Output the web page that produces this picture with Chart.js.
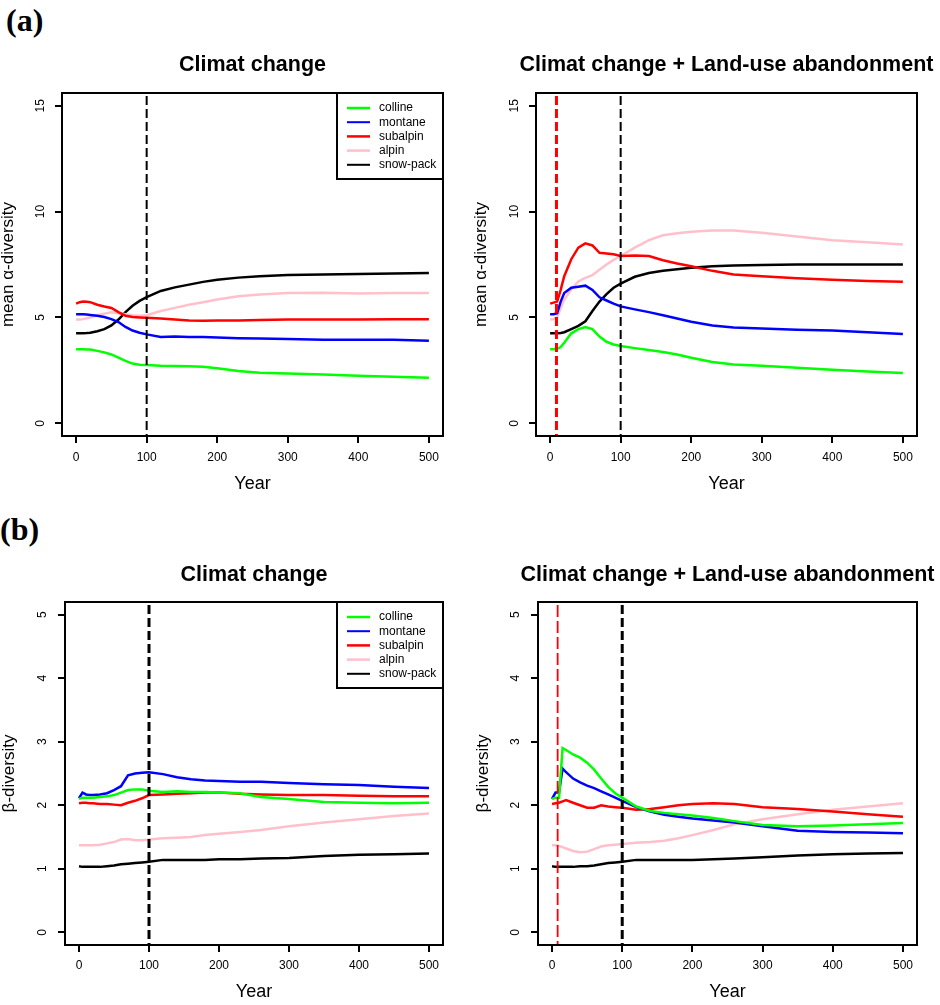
<!DOCTYPE html>
<html>
<head>
<meta charset="utf-8">
<script src="https://cdn.jsdelivr.net/npm/chart.js@4.4.1/dist/chart.umd.min.js"></script>
<style>
  body { margin: 0; background: #fff; width: 940px; height: 1005px; position: relative; overflow: hidden; }
  canvas { position: absolute; }
  .tag { position: absolute; font-family: "Liberation Serif", "Times New Roman", serif; font-weight: bold; font-size: 32px; line-height: 1; }
</style>
</head>
<body>
<div class="tag" style="left:6px;top:4px">(a)</div>
<div class="tag" style="left:0px;top:513px">(b)</div>
<canvas id="alphaCC" width="470" height="500" style="left:0;top:0"></canvas>
<canvas id="alphaLU" width="470" height="500" style="left:470px;top:0"></canvas>
<canvas id="betaCC" width="470" height="505" style="left:0;top:500px"></canvas>
<canvas id="betaLU" width="470" height="505" style="left:470px;top:500px"></canvas>
<script>
Chart.defaults.font.family = '"Liberation Sans", Arial, Helvetica, sans-serif';
Chart.defaults.color = "#000";

// shared bits
const years = [0, 5, 10, 15, 20, 30, 40, 50, 60, 70, 80, 90, 100, 120, 140, 160, 180, 200, 230, 260, 300, 350, 400, 450, 500];
const zoneNames = ["colline", "montane", "subalpin", "alpin", "snow-pack"];
const zoneColors = ["#00ff00", "#0000ff", "#ff0000", "#ffc0cb", "#000000"];
const xTicks = [0, 100, 200, 300, 400, 500];
const alphaTicks = [0, 5, 10, 15];
const betaTicks = [0, 1, 2, 3, 4, 5];

// years of the vertical dashed lines
const climateStop = [100];
const abandonAlpha = [9];
const abandonBeta = [8];

// (a) mean alpha-diversity, climat change
const alphaCC_colline = [3.5, 3.5, 3.5, 3.49, 3.48, 3.42, 3.35, 3.25, 3.1, 2.95, 2.82, 2.77, 2.75, 2.72, 2.71, 2.7, 2.67, 2.6, 2.47, 2.39, 2.35, 2.3, 2.25, 2.2, 2.15];
const alphaCC_montane = [5.15, 5.15, 5.15, 5.14, 5.12, 5.08, 5.02, 4.92, 4.78, 4.55, 4.38, 4.28, 4.2, 4.08, 4.1, 4.08, 4.07, 4.05, 4.02, 4.0, 3.98, 3.95, 3.95, 3.95, 3.9];
const alphaCC_subalpin = [5.65, 5.72, 5.75, 5.74, 5.72, 5.6, 5.52, 5.45, 5.25, 5.08, 5.02, 5.0, 4.98, 4.95, 4.9, 4.85, 4.84, 4.85, 4.86, 4.88, 4.9, 4.9, 4.9, 4.91, 4.92];
const alphaCC_alpin = [4.9, 4.9, 4.92, 4.96, 5.0, 5.1, 5.18, 5.24, 5.2, 5.15, 5.1, 5.08, 5.1, 5.3, 5.45, 5.6, 5.72, 5.85, 6.0, 6.08, 6.15, 6.17, 6.13, 6.15, 6.15];
const alphaCC_snowpack = [4.25, 4.25, 4.25, 4.26, 4.28, 4.35, 4.45, 4.62, 4.9, 5.25, 5.55, 5.78, 5.96, 6.25, 6.42, 6.55, 6.68, 6.78, 6.88, 6.95, 7.0, 7.03, 7.05, 7.07, 7.1];

// (a) mean alpha-diversity, climat change + land-use abandonment
const alphaLU_colline = [3.5, 3.5, 3.52, 3.6, 3.8, 4.25, 4.45, 4.55, 4.45, 4.1, 3.85, 3.72, 3.65, 3.55, 3.46, 3.37, 3.25, 3.1, 2.9, 2.78, 2.72, 2.62, 2.53, 2.45, 2.38];
const alphaLU_montane = [5.15, 5.15, 5.2, 5.75, 6.15, 6.4, 6.45, 6.5, 6.3, 5.95, 5.8, 5.65, 5.52, 5.38, 5.25, 5.1, 4.95, 4.8, 4.62, 4.52, 4.48, 4.42, 4.38, 4.3, 4.22];
const alphaLU_subalpin = [5.65, 5.7, 5.75, 6.3, 6.95, 7.75, 8.3, 8.5, 8.4, 8.05, 8.02, 7.98, 7.9, 7.93, 7.9, 7.7, 7.55, 7.42, 7.2, 7.03, 6.95, 6.85, 6.78, 6.72, 6.68];
const alphaLU_alpin = [4.9, 4.92, 5.0, 5.45, 5.85, 6.32, 6.7, 6.87, 7.0, 7.25, 7.5, 7.72, 7.9, 8.3, 8.65, 8.88, 8.98, 9.05, 9.1, 9.1, 9.0, 8.82, 8.65, 8.55, 8.45];
const alphaLU_snowpack = [4.25, 4.25, 4.25, 4.27, 4.3, 4.45, 4.6, 4.82, 5.3, 5.75, 6.1, 6.4, 6.6, 6.92, 7.1, 7.2, 7.28, 7.35, 7.42, 7.45, 7.48, 7.5, 7.5, 7.5, 7.5];

// (b) beta-diversity, climat change
const betaCC_colline = [2.1, 2.12, 2.12, 2.12, 2.12, 2.13, 2.14, 2.16, 2.2, 2.24, 2.25, 2.25, 2.23, 2.21, 2.22, 2.21, 2.21, 2.2, 2.19, 2.13, 2.1, 2.05, 2.04, 2.03, 2.04];
const betaCC_montane = [2.11, 2.2, 2.17, 2.16, 2.16, 2.17, 2.19, 2.24, 2.3, 2.47, 2.5, 2.51, 2.52, 2.49, 2.44, 2.41, 2.39, 2.38, 2.37, 2.37, 2.35, 2.33, 2.32, 2.29, 2.27];
const betaCC_subalpin = [2.03, 2.04, 2.04, 2.03, 2.03, 2.02, 2.02, 2.01, 2.0, 2.04, 2.07, 2.11, 2.16, 2.17, 2.18, 2.19, 2.2, 2.2, 2.18, 2.17, 2.16, 2.16, 2.15, 2.14, 2.14];
const betaCC_alpin = [1.37, 1.37, 1.37, 1.37, 1.37, 1.38, 1.4, 1.42, 1.46, 1.47, 1.45, 1.45, 1.46, 1.48, 1.49, 1.5, 1.53, 1.55, 1.58, 1.61, 1.67, 1.73, 1.78, 1.83, 1.87];
const betaCC_snowpack = [1.04, 1.03, 1.03, 1.03, 1.03, 1.03, 1.04, 1.05, 1.07, 1.08, 1.09, 1.1, 1.11, 1.14, 1.14, 1.14, 1.14, 1.15, 1.15, 1.16, 1.17, 1.2, 1.22, 1.23, 1.24];

// (b) beta-diversity, climat change + land-use abandonment
const betaLU_colline = [2.1, 2.12, 2.12, 2.9, 2.87, 2.8, 2.75, 2.67, 2.56, 2.42, 2.29, 2.19, 2.12, 1.98, 1.91, 1.88, 1.86, 1.84, 1.8, 1.75, 1.69, 1.67, 1.68, 1.7, 1.72];
const betaLU_montane = [2.1, 2.2, 2.2, 2.58, 2.52, 2.42, 2.36, 2.31, 2.27, 2.22, 2.17, 2.12, 2.07, 1.97, 1.9, 1.85, 1.82, 1.79, 1.76, 1.73, 1.67, 1.6, 1.58, 1.57, 1.56];
const betaLU_subalpin = [2.02, 2.03, 2.04, 2.06, 2.08, 2.04, 2.0, 1.96, 1.96, 2.0, 1.98, 1.97, 1.96, 1.93, 1.94, 1.97, 2.0, 2.02, 2.03, 2.02, 1.97, 1.94, 1.9, 1.86, 1.82];
const betaLU_alpin = [1.37, 1.37, 1.36, 1.34, 1.32, 1.28, 1.26, 1.27, 1.31, 1.35, 1.37, 1.38, 1.39, 1.41, 1.42, 1.44, 1.48, 1.53, 1.61, 1.7, 1.78, 1.86, 1.93, 1.98, 2.03];
const betaLU_snowpack = [1.04, 1.03, 1.03, 1.03, 1.03, 1.03, 1.04, 1.04, 1.05, 1.07, 1.09, 1.1, 1.11, 1.14, 1.14, 1.14, 1.14, 1.14, 1.15, 1.16, 1.18, 1.21, 1.23, 1.24, 1.25];

// R style box around the plot + dashed abline(v=...)
const frame = {
  id: "frame",
  afterDatasetsDraw(chart, args, opts) {
    const { ctx, chartArea: a } = chart;
    const x = chart.scales.x;
    ctx.save();
    (opts.markers || []).forEach((m) => {
      const px = x.getPixelForValue(m.year);
      ctx.strokeStyle = m.color;
      ctx.lineWidth = m.width;
      ctx.setLineDash(m.dash);
      ctx.beginPath();
      ctx.moveTo(px, a.top + 3);
      ctx.lineTo(px, a.bottom);
      ctx.stroke();
    });
    ctx.setLineDash([]);
    ctx.strokeStyle = "#000";
    ctx.lineWidth = 2;
    ctx.strokeRect(a.left, a.top, a.right - a.left, a.bottom - a.top);
    ctx.restore();
  },
};

// main title centred over the plot box (the built-in title squeezes long text)
const panelTitle = {
  id: "panelTitle",
  afterDraw(chart, args, opts) {
    const { ctx, chartArea: a } = chart;
    ctx.save();
    ctx.font = 'bold 21.5px "Liberation Sans", Arial, sans-serif';
    ctx.fillStyle = "#000";
    ctx.textAlign = "center";
    ctx.textBaseline = "middle";
    ctx.fillText(opts.text, (a.left + a.right) / 2, a.top - opts.gap);
    ctx.restore();
  },
};

// legend in the top right corner, boxed like legend() in R
const boxLegend = {
  id: "boxLegend",
  afterDraw(chart, args, opts) {
    if (!opts.show) return;
    const { ctx, chartArea: a } = chart;
    const w = 106, h = 86;
    const left = a.right - w, top = a.top;
    ctx.save();
    ctx.fillStyle = "#fff";
    ctx.fillRect(left, top, w, h);
    ctx.strokeStyle = "#000";
    ctx.lineWidth = 2;
    ctx.strokeRect(left, top, w, h);
    ctx.font = '12px "Liberation Sans", Arial, sans-serif';
    ctx.textBaseline = "middle";
    chart.data.datasets.forEach((ds, i) => {
      const y = top + 15 + i * 14.2;
      ctx.strokeStyle = ds.borderColor;
      ctx.lineWidth = i === 1 || i === 4 ? 2 : 2.5;
      ctx.beginPath();
      ctx.moveTo(left + 10, y);
      ctx.lineTo(left + 33, y);
      ctx.stroke();
      ctx.fillStyle = "#000";
      ctx.fillText(ds.label, left + 42, y);
    });
    ctx.restore();
  },
};

function makePanel(id, p) {
  const datasets = p.series.map((vals, i) => ({
    label: zoneNames[i],
    data: years.map((yr, j) => ({ x: yr, y: vals[j] })),
    borderColor: zoneColors[i],
    borderWidth: 2.5,
    pointRadius: 0,
    tension: 0,
    fill: false,
  }));

  const tickGrid = { drawOnChartArea: false, drawTicks: true, tickLength: 7, color: "#000", lineWidth: 2 };

  new Chart(document.getElementById(id), {
    type: "line",
    data: { datasets },
    options: {
      responsive: false,
      animation: false,
      layout: { padding: { left: 0, right: p.padRight, top: p.padTop, bottom: 0 } },
      plugins: {
        legend: { display: false },
        tooltip: { enabled: false },
        title: { display: false },
        panelTitle: { text: p.title, gap: p.titleGap },
        frame: { markers: p.markers },
        boxLegend: { show: p.legend },
      },
      scales: {
        x: {
          type: "linear",
          min: -20,
          max: 520,
          afterBuildTicks: (s) => { s.ticks = xTicks.map((v) => ({ value: v })); },
          afterFit: (s) => { s.height = p.xHeight; },
          grid: tickGrid,
          border: { display: false },
          ticks: { autoSkip: false, maxRotation: 0, padding: p.xPad, font: { size: 12 } },
          title: { display: true, text: "Year", font: { size: 18 }, padding: { top: 0, bottom: p.yearPad } },
        },
        y: {
          type: "linear",
          min: p.ymin,
          max: p.ymax,
          afterBuildTicks: (s) => { s.ticks = p.yTicks.map((v) => ({ value: v })); },
          afterFit: (s) => { s.width = p.yWidth; },
          grid: tickGrid,
          border: { display: false },
          ticks: { autoSkip: false, minRotation: 90, maxRotation: 90, crossAlign: "center", padding: p.yPad, font: { size: 12 } },
          title: { display: true, text: p.yTitle, font: { size: 17, lineHeight: 1 }, padding: { top: p.yTitlePad, bottom: 0 } },
        },
      },
    },
    plugins: [frame, boxLegend, panelTitle],
  });
}

const blackDash = (yr, w) => ({ year: yr, color: "#000", width: w, dash: [9, 4] });
const redDash = (yr, w, d) => ({ year: yr, color: "#ff0000", width: w, dash: d });

makePanel("alphaCC", {
  title: "Climat change",
  series: [alphaCC_colline, alphaCC_montane, alphaCC_subalpin, alphaCC_alpin, alphaCC_snowpack],
  ymin: -0.6, ymax: 15.6, yTicks: alphaTicks,
  yTitle: "mean \u03b1-diversity",
  markers: climateStop.map((y) => blackDash(y, 2)),
  legend: true,
  padRight: 27, padTop: 93, yWidth: 62, xHeight: 64, titleGap: 28,
  xPad: 7.3, yPad: 7.5, yearPad: 5.4, yTitlePad: 0,
});

makePanel("alphaLU", {
  title: "Climat change + Land-use abandonment",
  series: [alphaLU_colline, alphaLU_montane, alphaLU_subalpin, alphaLU_alpin, alphaLU_snowpack],
  ymin: -0.6, ymax: 15.6, yTicks: alphaTicks,
  yTitle: "mean \u03b1-diversity",
  markers: abandonAlpha.map((y) => redDash(y, 3, [9, 4])).concat(climateStop.map((y) => blackDash(y, 2))),
  legend: false,
  padRight: 23, padTop: 93, yWidth: 66, xHeight: 64, titleGap: 28,
  xPad: 7.3, yPad: 7.5, yearPad: 5.4, yTitlePad: 2.5,
});

makePanel("betaCC", {
  title: "Climat change",
  series: [betaCC_colline, betaCC_montane, betaCC_subalpin, betaCC_alpin, betaCC_snowpack],
  ymin: -0.2, ymax: 5.2, yTicks: betaTicks,
  yTitle: "\u03b2-diversity",
  markers: climateStop.map((y) => blackDash(y, 3)),
  legend: true,
  padRight: 27, padTop: 102, yWidth: 65, xHeight: 60, titleGap: 27.2,
  xPad: 6.6, yPad: 12.2, yearPad: 2.4, yTitlePad: 0.5,
});

makePanel("betaLU", {
  title: "Climat change + Land-use abandonment",
  series: [betaLU_colline, betaLU_montane, betaLU_subalpin, betaLU_alpin, betaLU_snowpack],
  ymin: -0.2, ymax: 5.2, yTicks: betaTicks,
  yTitle: "\u03b2-diversity",
  markers: abandonBeta.map((y) => redDash(y, 1.8, [12, 4])).concat(climateStop.map((y) => blackDash(y, 3))),
  legend: false,
  padRight: 23, padTop: 102, yWidth: 68, xHeight: 60, titleGap: 27.2,
  xPad: 6.6, yPad: 12.2, yearPad: 2.4, yTitlePad: 4.5,
});
</script>
</body>
</html>
